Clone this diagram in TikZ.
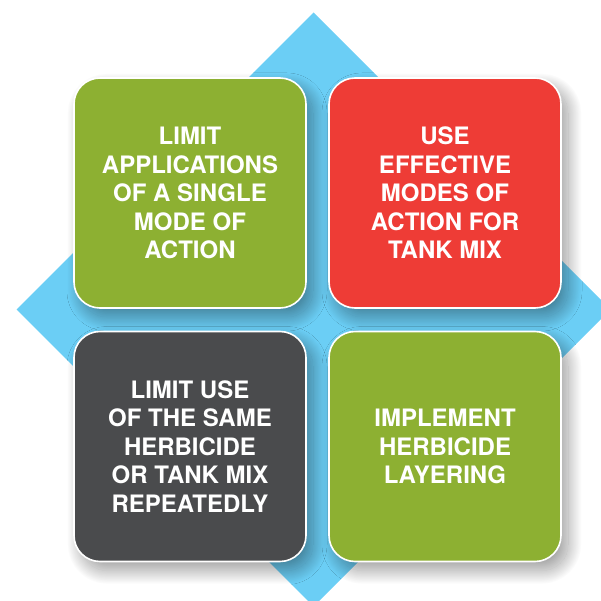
\documentclass[tikz,border=0pt]{standalone}
\usepackage{fontspec}
\setmainfont{TeX Gyre Heros}
\usetikzlibrary{shadows.blur}
\definecolor{dblue}{HTML}{6BCEF5}
\definecolor{bgreen}{HTML}{8DB032}
\definecolor{bred}{HTML}{EE3C36}
\definecolor{bgray}{HTML}{4A4B4D}
\tikzset{
  tile/.style={rectangle, rounded corners=26pt, minimum width=232pt, minimum height=230pt,
    draw=white, line width=1.6pt, text=white, align=center, inner sep=0pt,
    font=\fontsize{24}{28.5}\selectfont\bfseries,
    blur shadow={shadow xshift=7pt, shadow yshift=-9pt, shadow blur radius=14pt,
      shadow blur steps=60, shadow opacity=40}}
}
\begin{document}
\begin{tikzpicture}[x=1pt,y=1pt]
\useasboundingbox (0,0) rectangle (601,600);
\clip (0,0) rectangle (601,600);
\fill[dblue] (313.5,587.5) -- (610.5,290.5) -- (313.5,-6.5) -- (16.5,290.5) -- cycle;
\node[tile, fill=bgreen] (tl) at (190,407) {LIMIT\\APPLICATIONS\\OF A SINGLE\\MODE OF\\ACTION};
\node[tile, fill=bred] (tr) at (445,407) {USE\\EFFECTIVE\\MODES OF\\ACTION FOR\\TANK MIX};
\node[tile, fill=bgray] (bl) at (190,153.5) {LIMIT USE\\OF THE SAME\\HERBICIDE\\OR TANK MIX\\REPEATEDLY};
\node[tile, fill=bgreen] (br) at (445,153.5) {IMPLEMENT\\HERBICIDE\\LAYERING};
\end{tikzpicture}
\end{document}
